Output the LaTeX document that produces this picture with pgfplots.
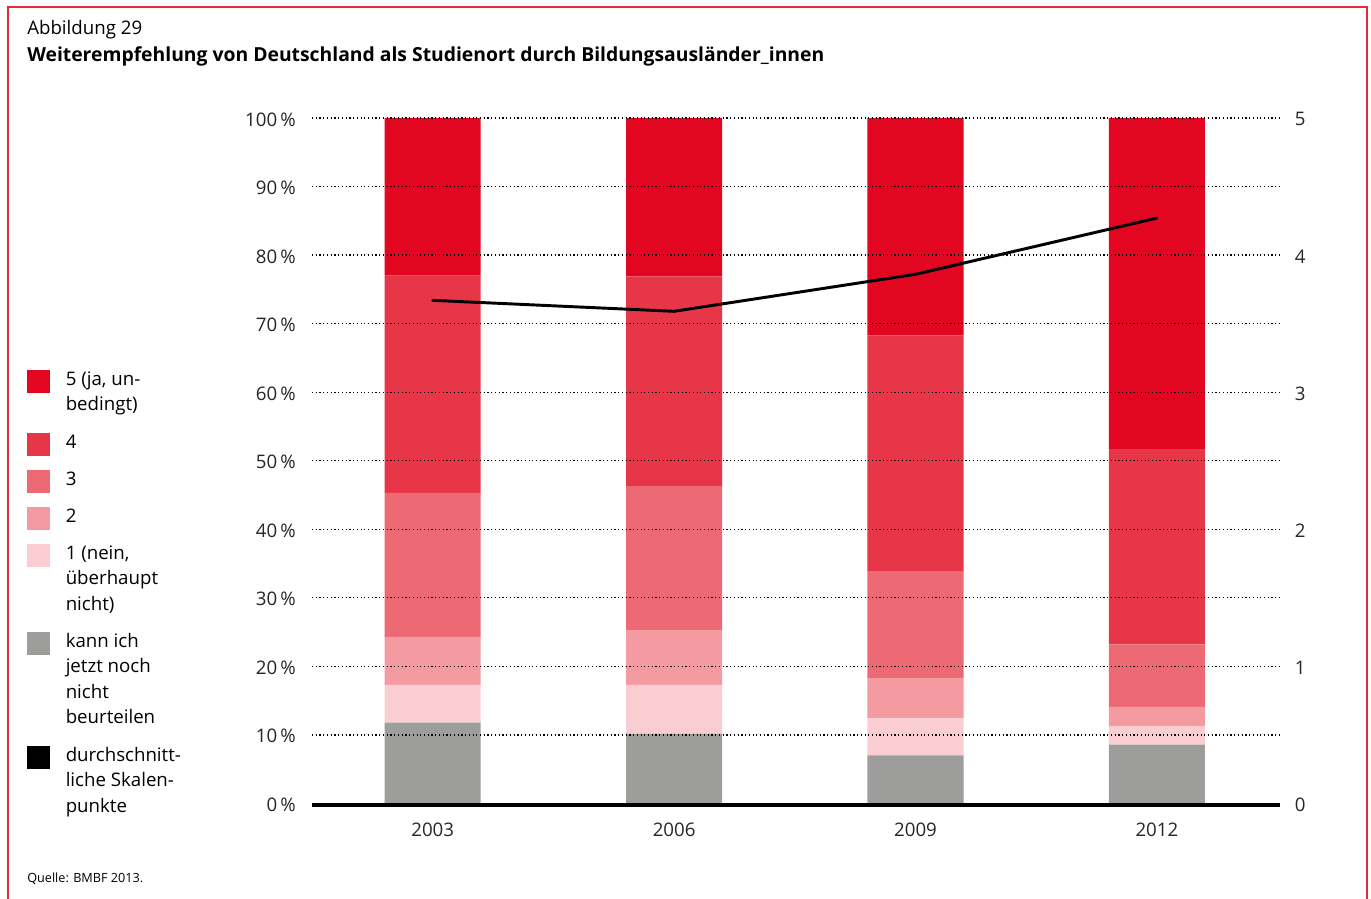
\documentclass[border=0pt]{standalone}
\usepackage{fontspec}
\setmainfont{Open Sans}
\usepackage{pgfplots}
\pgfplotsset{compat=1.18}
\definecolor{cF}{RGB}{226,6,33}
\definecolor{cV}{RGB}{232,54,73}
\definecolor{cT}{RGB}{237,106,117}
\definecolor{cZ}{RGB}{244,155,162}
\definecolor{cE}{RGB}{250,205,211}
\definecolor{cG}{RGB}{157,157,156}
\definecolor{frame}{RGB}{230,40,60}
\begin{document}
\begin{tikzpicture}
\useasboundingbox (0,0) rectangle (1028.25pt,-674.25pt);
\fill[white] (0,0) rectangle (1028.25pt,-674.25pt);
\begin{scope}[x=0.75pt,y=-0.75pt]
\draw[frame, line width=1.5pt] (8,900) -- (8,7) -- (1367,7) -- (1367,900);
\node[anchor=base west, inner sep=0, font=\fontsize{14}{16}\selectfont] at (27,35) {Abbildung 29};
\node[anchor=base west, inner sep=0, font=\fontsize{14.5}{16}\selectfont\bfseries] at (27,62) {Weiterempfehlung von Deutschland als Studienort durch Bildungsausländer\_innen};
\node[anchor=base west, inner sep=0, font=\fontsize{9.5}{11}\selectfont] at (27,882) {Quelle: BMBF 2013.};
% legend
\begin{scope}[every node/.style={anchor=base west, inner sep=0, font=\fontsize{14}{16}\selectfont}]
\fill[cF] (27,370) rectangle (50,393);
\node at (65.5,385) {5 (ja, un-};
\node at (65.5,410.5) {bedingt)};
\fill[cV] (27,433) rectangle (50,456);
\node at (65.5,448) {4};
\fill[cT] (27,470) rectangle (50,493);
\node at (65.5,485) {3};
\fill[cZ] (27,507) rectangle (50,530);
\node at (65.5,522) {2};
\fill[cE] (27,544) rectangle (50,567);
\node at (65.5,559) {1 (nein,};
\node at (65.5,584.5) {überhaupt};
\node at (65.5,610) {nicht)};
\fill[cG] (27,632) rectangle (50,655);
\node at (65.5,647) {kann ich};
\node at (65.5,672.5) {jetzt noch};
\node at (65.5,698) {nicht};
\node at (65.5,723.5) {beurteilen};
\fill[black] (27,746) rectangle (50,769);
\node at (65.5,761) {durchschnitt-};
\node at (65.5,786.5) {liche Skalen-};
\node at (65.5,812) {punkte};
\end{scope}
\end{scope}

\begin{axis}[
  at={(234pt,-602.6pt)}, anchor=south west,
  width=726pt, height=514.1pt, scale only axis,
  xmin=-0.5, xmax=3.51, ymin=0, ymax=100,
  ybar stacked, bar width=72pt,
  xtick={0,1,2,3}, xticklabels={2003,2006,2009,2012},
  ytick={0,10,...,100},
  ymajorgrids,
  major grid style={black, line width=0.9pt, dash pattern=on 0.9pt off 1.9pt},
  axis on top,
  axis x line*=bottom, axis y line*=left,
  y axis line style={draw=none},
  x axis line style={-, line width=2.7pt, yshift=-1pt},
  major tick length=0pt,
  tick label style={font=\fontsize{14}{16}\selectfont, text=black!85},
  /pgf/number format/assume math mode=true,
  yticklabel={\pgfmathprintnumber{\tick}\,\%},
  yticklabel style={anchor=east, inner sep=0pt, xshift=-12pt, yshift=-1pt},
  xticklabel style={anchor=base, inner sep=0pt, yshift=-25pt},
  clip=false,
]
\addplot[fill=cG, draw=none] coordinates {(0,11.8) (1,10.2) (2,7.0) (3,8.6)};
\addplot[fill=cE, draw=none] coordinates {(0,5.5) (1,7.1) (2,5.4) (3,2.7)};
\addplot[fill=cZ, draw=none] coordinates {(0,7.0) (1,8.0) (2,5.9) (3,2.8)};
\addplot[fill=cT, draw=none] coordinates {(0,21.0) (1,21.0) (2,15.6) (3,9.1)};
\addplot[fill=cV, draw=none] coordinates {(0,31.7) (1,30.6) (2,34.4) (3,28.5)};
\addplot[fill=cF, draw=none] coordinates {(0,23.0) (1,23.1) (2,31.7) (3,48.3)};
\end{axis}

\begin{axis}[
  at={(234pt,-602.6pt)}, anchor=south west,
  width=726pt, height=514.1pt, scale only axis,
  xmin=-0.5, xmax=3.51, ymin=0, ymax=5,
  hide x axis,
  axis y line*=right,
  y axis line style={draw=none},
  ytick={0,1,...,5},
  major tick length=0pt,
  tick label style={font=\fontsize{14}{16}\selectfont, text=black!85},
  /pgf/number format/assume math mode=true,
  yticklabel style={anchor=west, inner sep=0pt, xshift=11pt, yshift=-1pt},
  clip=false,
]
\addplot[black, line width=2.2pt, line cap=round, line join=round] coordinates {(0,3.67) (1,3.59) (2,3.86) (3,4.27)};
\end{axis}
\end{tikzpicture}
\end{document}
